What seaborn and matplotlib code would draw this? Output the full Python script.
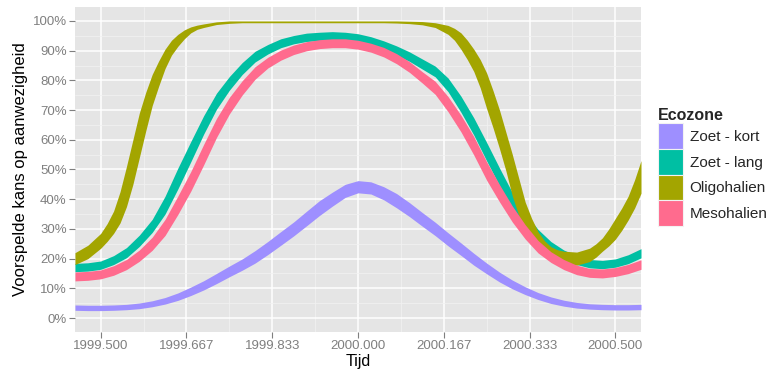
import numpy as np
import pandas as pd
import matplotlib
matplotlib.use("Agg")
import matplotlib.pyplot as plt
from matplotlib.patches import Patch
from matplotlib.ticker import FixedLocator, PercentFormatter
import seaborn as sns

# Sample times (fraction of year)
tijd = [1999.450, 1999.475, 1999.500, 1999.525, 1999.550, 1999.575, 1999.600, 1999.625,
        1999.650, 1999.675, 1999.700, 1999.725, 1999.750, 1999.775, 1999.800, 1999.825,
        1999.850, 1999.875, 1999.900, 1999.925, 1999.950, 1999.975, 2000.000, 2000.025,
        2000.050, 2000.075, 2000.100, 2000.125, 2000.150, 2000.175, 2000.200, 2000.225,
        2000.250, 2000.275, 2000.300, 2000.325, 2000.350, 2000.375, 2000.400, 2000.425,
        2000.450, 2000.475, 2000.500, 2000.525, 2000.550]

# Oligohalien changes fast, so it is sampled more densely on its steep flanks
tijd_oligo = [1999.450, 1999.475, 1999.500, 1999.5125, 1999.525, 1999.5375, 1999.550,
              1999.5625, 1999.575, 1999.5875, 1999.600, 1999.6125, 1999.625, 1999.6375,
              1999.650, 1999.6625, 1999.675, 1999.6875, 1999.700, 1999.725, 1999.750,
              1999.775, 1999.800, 1999.825, 1999.850, 1999.875, 1999.900, 1999.925,
              1999.950, 1999.975, 2000.000, 2000.025, 2000.050, 2000.075, 2000.100,
              2000.125, 2000.150, 2000.175, 2000.1875, 2000.200, 2000.2125, 2000.225,
              2000.2375, 2000.250, 2000.2625, 2000.275, 2000.2875, 2000.300, 2000.3125,
              2000.325, 2000.3375, 2000.350, 2000.3625, 2000.375, 2000.3875, 2000.400,
              2000.425, 2000.450, 2000.4625, 2000.475, 2000.4875, 2000.500, 2000.5125,
              2000.525, 2000.5375, 2000.550]

# Confidence band (lower / upper) of the predicted presence probability per ecozone
zoet_kort_lo = [0.026, 0.025, 0.025, 0.026, 0.028, 0.0315, 0.038, 0.047, 0.0595, 0.0758,
                0.0945, 0.116, 0.139, 0.161, 0.185, 0.214, 0.245, 0.2765, 0.3105, 0.345,
                0.3765, 0.406, 0.4215, 0.4175, 0.398, 0.371, 0.3415, 0.309, 0.2775, 0.243,
                0.211, 0.178, 0.149, 0.1215, 0.0983, 0.0789, 0.0623, 0.049, 0.040, 0.0335,
                0.030, 0.028, 0.027, 0.027, 0.028]
zoet_kort_hi = [0.044, 0.043, 0.043, 0.044, 0.046, 0.0505, 0.058, 0.069, 0.0845, 0.1042,
                0.1255, 0.150, 0.175, 0.199, 0.227, 0.258, 0.291, 0.3235, 0.3595, 0.395,
                0.4235, 0.450, 0.4625, 0.4585, 0.442, 0.419, 0.3885, 0.355, 0.3225, 0.287,
                0.253, 0.218, 0.185, 0.1545, 0.1277, 0.1051, 0.0857, 0.071, 0.060, 0.0525,
                0.048, 0.046, 0.045, 0.045, 0.046]

zoet_lang_lo = [0.156, 0.158, 0.164, 0.180, 0.203, 0.241, 0.288, 0.350, 0.435, 0.526,
                0.619, 0.703, 0.767, 0.820, 0.862, 0.889, 0.910, 0.923, 0.931, 0.934,
                0.936, 0.934, 0.929, 0.919, 0.903, 0.884, 0.864, 0.838, 0.812, 0.762,
                0.693, 0.616, 0.529, 0.445, 0.368, 0.307, 0.258, 0.2226, 0.197, 0.180,
                0.169, 0.166, 0.171, 0.183, 0.2025]
zoet_lang_hi = [0.184, 0.186, 0.192, 0.210, 0.237, 0.279, 0.332, 0.410, 0.505, 0.594,
                0.681, 0.757, 0.813, 0.860, 0.898, 0.921, 0.940, 0.951, 0.959, 0.962,
                0.964, 0.962, 0.957, 0.947, 0.933, 0.916, 0.896, 0.872, 0.848, 0.808,
                0.747, 0.674, 0.591, 0.505, 0.422, 0.353, 0.298, 0.2574, 0.229, 0.210,
                0.197, 0.194, 0.199, 0.213, 0.2335]

oligohalien_lo = [0.180, 0.200, 0.235, 0.258, 0.285, 0.320, 0.375, 0.450, 0.540, 0.630,
                  0.715, 0.780, 0.840, 0.885, 0.915, 0.940, 0.960, 0.972, 0.978, 0.988,
                  0.992, 0.994, 0.994, 0.994, 0.994, 0.994, 0.994, 0.994, 0.994, 0.994,
                  0.994, 0.994, 0.994, 0.993, 0.991, 0.987, 0.978, 0.955, 0.935, 0.905,
                  0.870, 0.830, 0.775, 0.705, 0.640, 0.570, 0.495, 0.410, 0.345, 0.290,
                  0.255, 0.225, 0.207, 0.195, 0.186, 0.180, 0.178, 0.190, 0.205, 0.225,
                  0.243, 0.265, 0.295, 0.330, 0.370, 0.420]
oligohalien_hi = [0.220, 0.245, 0.285, 0.318, 0.360, 0.425, 0.510, 0.600, 0.690, 0.760,
                  0.820, 0.865, 0.905, 0.935, 0.955, 0.970, 0.980, 0.986, 0.990, 0.997,
                  1.000, 1.000, 1.000, 1.000, 1.000, 1.000, 1.000, 1.000, 1.000, 1.000,
                  1.000, 1.000, 1.000, 1.000, 0.999, 0.998, 0.994, 0.985, 0.975, 0.960,
                  0.935, 0.905, 0.870, 0.825, 0.765, 0.700, 0.625, 0.550, 0.470, 0.390,
                  0.335, 0.290, 0.260, 0.240, 0.230, 0.225, 0.222, 0.235, 0.250, 0.270,
                  0.300, 0.335, 0.370, 0.410, 0.465, 0.530]

mesohalien_lo = [0.125, 0.127, 0.132, 0.144, 0.163, 0.191, 0.228, 0.278, 0.349, 0.427,
                 0.5155, 0.608, 0.687, 0.751, 0.804, 0.842, 0.868, 0.887, 0.8997, 0.907,
                 0.910, 0.910, 0.905, 0.895, 0.879, 0.856, 0.827, 0.791, 0.753, 0.6945,
                 0.627, 0.549, 0.464, 0.391, 0.323, 0.266, 0.219, 0.187, 0.163, 0.146,
                 0.137, 0.135, 0.140, 0.1495, 0.164]
mesohalien_hi = [0.155, 0.157, 0.162, 0.176, 0.197, 0.229, 0.272, 0.332, 0.411, 0.493,
                 0.5845, 0.672, 0.743, 0.799, 0.846, 0.878, 0.902, 0.919, 0.9303, 0.937,
                 0.940, 0.940, 0.935, 0.925, 0.911, 0.890, 0.863, 0.829, 0.797, 0.7455,
                 0.683, 0.611, 0.526, 0.449, 0.377, 0.314, 0.261, 0.223, 0.197, 0.178,
                 0.167, 0.165, 0.170, 0.1805, 0.196]

ecozones = ["Zoet - kort", "Zoet - lang", "Oligohalien", "Mesohalien"]
kleuren = ["#9E8FFF", "#00BFA3", "#A3A500", "#FF6B8E"]
banden = {
    "Zoet - kort": (tijd, zoet_kort_lo, zoet_kort_hi),
    "Zoet - lang": (tijd, zoet_lang_lo, zoet_lang_hi),
    "Oligohalien": (tijd_oligo, oligohalien_lo, oligohalien_hi),
    "Mesohalien": (tijd, mesohalien_lo, mesohalien_hi),
}

x_ticks = [1999.5, 1999.5 + 1 / 6, 1999.5 + 2 / 6, 2000.0, 2000.0 + 1 / 6, 2000.0 + 2 / 6, 2000.5]
x_tick_labels = ["1999.500", "1999.667", "1999.833", "2000.000", "2000.167", "2000.333", "2000.500"]
y_ticks = [0.0, 0.1, 0.2, 0.3, 0.4, 0.5, 0.6, 0.7, 0.8, 0.9, 1.0]

# Long table: two rows per time point (band bounds), the min-max interval becomes the ribbon
rows = []
for zone in ecozones:
    ts, lo, hi = banden[zone]
    for t, a, b in zip(ts, lo, hi):
        rows.append((zone, t, a))
        rows.append((zone, t, b))
df = pd.DataFrame(rows, columns=["Ecozone", "Tijd", "kans"])

sns.set_theme(style="darkgrid", rc={
    "axes.facecolor": "#E5E5E5",
    "grid.color": "white",
})
plt.rcParams["font.family"] = ["Liberation Sans", "DejaVu Sans"]

fig = plt.figure(figsize=(7.7, 3.74), dpi=100)
ax = fig.add_axes([75 / 770, 1 - 332 / 374, (641 - 75) / 770, (332 - 7) / 374])

palette = dict(zip(ecozones, kleuren))
sns.lineplot(data=df, x="Tijd", y="kans", hue="Ecozone", hue_order=ecozones,
             palette=palette, estimator="mean", errorbar=("pi", 100),
             err_kws={"alpha": 1.0, "linewidth": 0}, linewidth=0, legend=False, ax=ax)

ax.set_xlim(1999.45, 2000.55)
ax.set_ylim(-0.047, 1.047)

ax.xaxis.set_major_locator(FixedLocator(x_ticks))
ax.set_xticklabels(x_tick_labels)
ax.xaxis.set_minor_locator(FixedLocator([(a + b) / 2 for a, b in zip(x_ticks[:-1], x_ticks[1:])]))
ax.yaxis.set_major_locator(FixedLocator(y_ticks))
ax.yaxis.set_major_formatter(PercentFormatter(1.0, decimals=0))
ax.yaxis.set_minor_locator(FixedLocator([v + 0.05 for v in y_ticks[:-1]]))

ax.grid(which="major", color="white", linewidth=1.1)
ax.grid(which="minor", color="#F2F2F2", linewidth=0.5)
ax.set_axisbelow(True)
for s in ax.spines.values():
    s.set_visible(False)

ax.tick_params(axis="both", which="major", length=4, width=0.8, color="#7F7F7F",
               labelcolor="#7F7F7F", labelsize=9.5, pad=2, bottom=True, left=True)
ax.tick_params(axis="both", which="minor", length=0)

ax.set_xlabel("Tijd", fontsize=11.5, color="black", labelpad=1)
ax.set_ylabel("Voorspelde kans op aanwezigheid", fontsize=12, color="black", labelpad=3)

handles = [Patch(facecolor=c, edgecolor="#F2F2F2", linewidth=0.8) for c in kleuren]
leg = fig.legend(handles, ecozones, title="Ecozone", loc="center left",
                 bbox_to_anchor=(652 / 770, 0.553), frameon=False, fontsize=11,
                 title_fontproperties={"weight": "bold", "size": 11.5},
                 handlelength=1.66, handleheight=2.2, labelspacing=0.0,
                 handletextpad=0.4, borderaxespad=0, alignment="left")

fig.savefig("out.png", dpi=100, facecolor="white")
